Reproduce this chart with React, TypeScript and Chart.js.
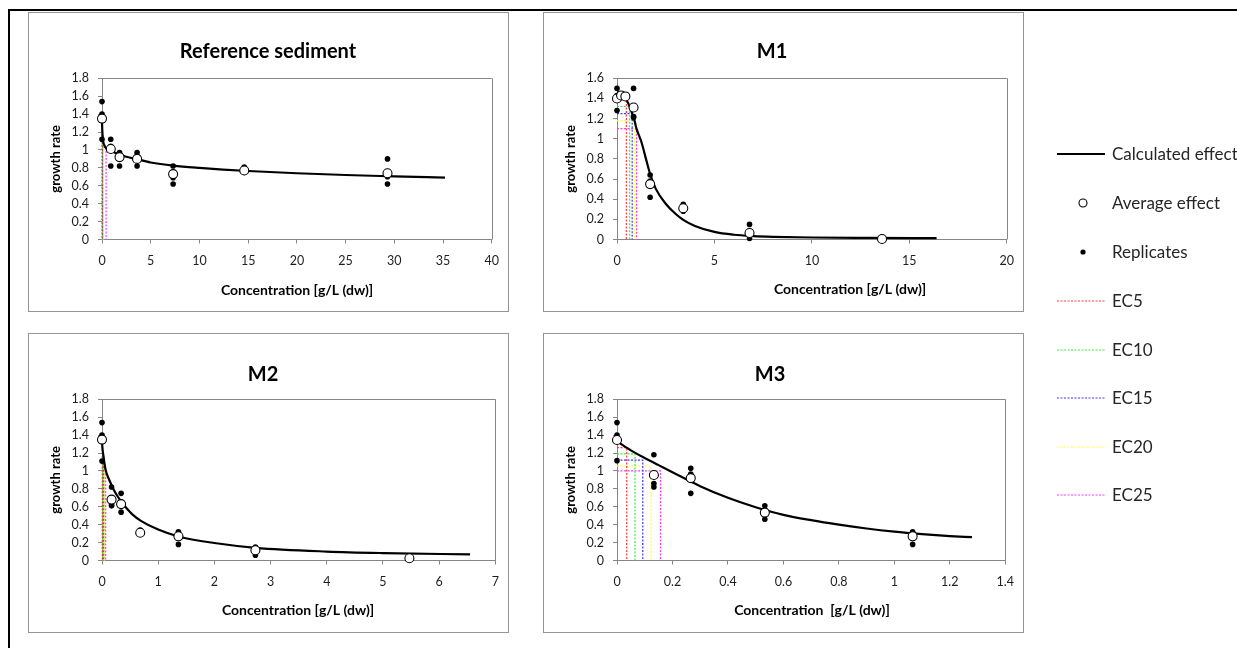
import React, { useEffect, useRef } from "react";
import { Chart, registerables } from "chart.js";

Chart.register(...registerables);

const FONT = "Lato, 'Open Sans', 'DejaVu Sans', sans-serif";

// ---------- Reference sediment ----------
const refConc = [0, 0.9, 1.8, 3.6, 7.3, 14.6, 29.3];
const refAverage = [1.35, 1.01, 0.92, 0.9, 0.73, 0.77, 0.74];
const refReplicates = [
  [1.54, 1.4, 1.12],
  [1.12, 1.04, 0.82],
  [0.97, 0.95, 0.9, 0.82],
  [0.97, 0.9, 0.82],
  [0.82, 0.75, 0.69, 0.62],
  [0.81, 0.77, 0.75],
  [0.9, 0.75, 0.73, 0.7, 0.62],
];
const refCurveX = [0, 0.01, 0.03, 0.06, 0.13, 0.25, 0.42, 1, 2, 3.6, 5, 7.3, 10, 15, 20, 25, 30, 35.2];
const refCurveY = [1.36, 1.29, 1.22, 1.16, 1.09, 1.05, 1.02, 0.985, 0.94, 0.895, 0.86, 0.825, 0.8, 0.765, 0.74, 0.72, 0.705, 0.69];
const refEcX = [0.01, 0.03, 0.06, 0.13, 0.42];
const refEcY = [1.29, 1.22, 1.16, 1.09, 1.02];

// ---------- M1 ----------
const m1Conc = [0, 0.21, 0.43, 0.85, 1.7, 3.4, 6.8, 13.6];
const m1Average = [1.4, 1.43, 1.42, 1.31, 0.55, 0.31, 0.065, 0.005];
const m1Replicates = [
  [1.5, 1.43, 1.28],
  [1.44, 1.42],
  [1.43, 1.42, 1.41],
  [1.5, 1.22, 1.21],
  [0.64, 0.58, 0.42],
  [0.35, 0.3, 0.28],
  [0.15, 0.04, 0.01],
  [0.01, 0.005, 0.0],
];
const m1CurveX = [0, 0.2, 0.35, 0.48, 0.65, 0.78, 0.9, 1.0, 1.25, 1.5, 1.7, 2.0, 2.5, 3.0, 3.4, 4, 5, 6, 7, 8, 10, 13, 16.4];
const m1CurveY = [1.46, 1.455, 1.435, 1.39, 1.32, 1.25, 1.18, 1.1, 0.97, 0.79, 0.65, 0.5, 0.355, 0.255, 0.195, 0.135, 0.075, 0.047, 0.034, 0.027, 0.02, 0.016, 0.013];
const m1EcX = [0.48, 0.65, 0.78, 0.9, 1.0];
const m1EcY = [1.39, 1.32, 1.25, 1.18, 1.1];

// ---------- M2 ----------
const m2Conc = [0, 0.17, 0.34, 0.68, 1.36, 2.73, 5.47];
const m2Average = [1.35, 0.68, 0.63, 0.31, 0.27, 0.115, 0.025];
const m2Replicates = [
  [1.54, 1.4, 1.11],
  [0.82, 0.62, 0.61],
  [0.75, 0.61, 0.54],
  [0.34, 0.31, 0.3],
  [0.32, 0.31, 0.18],
  [0.15, 0.13, 0.06],
  [0.04, 0.02, 0.01],
];
const m2CurveX = [0, 0.005, 0.015, 0.03, 0.045, 0.065, 0.09, 0.136, 0.2, 0.254, 0.34, 0.43, 0.55, 0.7, 1.0, 1.36, 2.0, 2.73, 4, 5, 6.55];
const m2CurveY = [1.35, 1.28, 1.215, 1.15, 1.08, 1.01, 0.96, 0.89, 0.8, 0.74, 0.66, 0.59, 0.51, 0.44, 0.345, 0.268, 0.195, 0.142, 0.1, 0.083, 0.068];
const m2EcX = [0.005, 0.015, 0.03, 0.045, 0.065];
const m2EcY = [1.28, 1.215, 1.15, 1.08, 1.01];

// ---------- M3 ----------
const m3Conc = [0, 0.133, 0.266, 0.533, 1.066];
const m3Average = [1.345, 0.955, 0.92, 0.535, 0.27];
const m3Replicates = [
  [1.54, 1.4, 1.115],
  [1.18, 0.86, 0.82],
  [1.03, 0.965, 0.75],
  [0.61, 0.53, 0.46],
  [0.32, 0.31, 0.18],
];
const m3CurveX = [0, 0.05, 0.1, 0.15, 0.2, 0.3, 0.4, 0.5, 0.6, 0.7, 0.8, 0.9, 1.0, 1.1, 1.2, 1.28];
const m3CurveY = [1.33, 1.23, 1.145, 1.065, 0.985, 0.83, 0.7, 0.595, 0.51, 0.45, 0.4, 0.357, 0.322, 0.295, 0.273, 0.26];
const m3EcX = [0.035, 0.065, 0.093, 0.123, 0.157];
const m3EcY = [1.26, 1.19, 1.12, 1.055, 1.0];

// ---------- ticks & labels ----------
const yTicks18 = [0, 0.2, 0.4, 0.6, 0.8, 1, 1.2, 1.4, 1.6, 1.8];
const yTicks16 = [0, 0.2, 0.4, 0.6, 0.8, 1, 1.2, 1.4, 1.6];
const xTicksRef = [0, 5, 10, 15, 20, 25, 30, 35, 40];
const xTicksM1 = [0, 5, 10, 15, 20];
const xTicksM2 = [0, 1, 2, 3, 4, 5, 6, 7];
const xTicksM3 = [0, 0.2, 0.4, 0.6, 0.8, 1, 1.2, 1.4];

const ecLabels = ["EC5", "EC10", "EC15", "EC20", "EC25"];
const ecColors = ["#ff3b3b", "#3bef3b", "#3b3bff", "#ffff3b", "#ff3bff"];

const panelTitles = ["Reference sediment", "M1", "M2", "M3"];
const xTitles = ["Concentration [g/L (dw)]", "Concentration [g/L (dw)]", "Concentration [g/L (dw)]", "Concentration  [g/L (dw)]"];
const yTitle = "growth rate";
const legendLabels = ["Calculated effect", "Average effect", "Replicates"];

// ---------- layout (pixels) ----------
const PW = 481;
const PH = 300;
const layouts = [
  { x: 28, y: 12, right: 465, titleX: 240, titleY: 40, xTitleX: 269, xTitleY: 278 },
  { x: 543, y: 12, right: 465, titleX: 229, titleY: 40, xTitleX: 307, xTitleY: 277 },
  { x: 28, y: 333, right: 469, titleX: 235, titleY: 42, xTitleX: 270, xTitleY: 277 },
  { x: 543, y: 333, right: 464, titleX: 227, titleY: 42, xTitleX: 269, xTitleY: 277 },
];

type PanelData = {
  conc: number[];
  average: number[];
  replicates: number[][];
  curveX: number[];
  curveY: number[];
  ecX: number[];
  ecY: number[];
  xTicks: number[];
  yTicks: number[];
};

const panels: PanelData[] = [
  { conc: refConc, average: refAverage, replicates: refReplicates, curveX: refCurveX, curveY: refCurveY, ecX: refEcX, ecY: refEcY, xTicks: xTicksRef, yTicks: yTicks18 },
  { conc: m1Conc, average: m1Average, replicates: m1Replicates, curveX: m1CurveX, curveY: m1CurveY, ecX: m1EcX, ecY: m1EcY, xTicks: xTicksM1, yTicks: yTicks16 },
  { conc: m2Conc, average: m2Average, replicates: m2Replicates, curveX: m2CurveX, curveY: m2CurveY, ecX: m2EcX, ecY: m2EcY, xTicks: xTicksM2, yTicks: yTicks18 },
  { conc: m3Conc, average: m3Average, replicates: m3Replicates, curveX: m3CurveX, curveY: m3CurveY, ecX: m3EcX, ecY: m3EcY, xTicks: xTicksM3, yTicks: yTicks18 },
];

const AXIS_GRAY = "#868686";
const TEXT = "#1e1e1e";

const decorPlugin = {
  id: "decor",
  beforeDraw(chart: any) {
    const ctx = chart.ctx;
    ctx.save();
    ctx.fillStyle = "#ffffff";
    ctx.fillRect(0, 0, chart.width, chart.height);
    ctx.strokeStyle = "#959595";
    ctx.lineWidth = 1;
    ctx.strokeRect(0.5, 0.5, chart.width - 1, chart.height - 1);
    ctx.restore();
  },
  beforeDatasetsDraw(chart: any) {
    const { ctx, chartArea: a } = chart;
    ctx.save();
    ctx.strokeStyle = AXIS_GRAY;
    ctx.lineWidth = 1;
    ctx.beginPath();
    ctx.moveTo(a.left, Math.round(a.top) + 0.5);
    ctx.lineTo(a.right, Math.round(a.top) + 0.5);
    ctx.moveTo(Math.round(a.right) + 0.5, a.top);
    ctx.lineTo(Math.round(a.right) + 0.5, a.bottom);
    ctx.stroke();
    ctx.restore();
  },
  afterDraw(chart: any, _args: any, opts: any) {
    const { ctx, chartArea: a } = chart;
    ctx.save();
    ctx.fillStyle = "#000";
    ctx.textAlign = "center";
    ctx.textBaseline = "middle";
    ctx.font = `bold 20px ${FONT}`;
    ctx.fillText(opts.title, opts.titleX, opts.titleY);
    ctx.font = `bold 14px ${FONT}`;
    ctx.fillText(opts.xTitle, opts.xTitleX, opts.xTitleY);
    ctx.translate(28, (a.top + a.bottom) / 2);
    ctx.rotate(-Math.PI / 2);
    ctx.font = `bold 13px ${FONT}`;
    ctx.fillText(opts.yTitle, 0, 0);
    ctx.restore();
  },
};

const fmt = (v: number) => String(Math.round(v * 10) / 10);

function buildConfig(i: number): any {
  const p = panels[i];
  const L = layouts[i];
  const avgPts = p.conc.map((x, k) => ({ x, y: p.average[k] }));
  const repPts: { x: number; y: number }[] = [];
  p.replicates.forEach((grp, k) => grp.forEach((y) => repPts.push({ x: p.conc[k], y })));
  const curvePts = p.curveX.map((x, k) => ({ x, y: p.curveY[k] }));
  const ecSets = p.ecX.map((x, k) => ({
    label: ecLabels[k],
    data: [
      { x: 0, y: p.ecY[k] },
      { x, y: p.ecY[k] },
      { x, y: 0 },
    ],
    showLine: true,
    borderColor: ecColors[k],
    borderWidth: 1.2,
    borderDash: [2, 1.5],
    pointRadius: 0,
    tension: 0,
    clip: false,
  }));
  const xTicks = p.xTicks;
  const yTicks = p.yTicks;
  return {
    type: "scatter",
    data: {
      datasets: [
        {
          label: "Average effect",
          data: avgPts,
          pointRadius: 4.5,
          pointBackgroundColor: "#ffffff",
          pointBorderColor: "#000000",
          pointBorderWidth: 1.1,
          showLine: false,
          clip: false,
        },
        {
          label: "Replicates",
          data: repPts,
          pointRadius: 2.8,
          pointBackgroundColor: "#000000",
          pointBorderColor: "#000000",
          pointBorderWidth: 0,
          showLine: false,
          clip: false,
        },
        {
          label: "Calculated effect",
          data: curvePts,
          showLine: true,
          borderColor: "#000000",
          borderWidth: 2.2,
          pointRadius: 0,
          cubicInterpolationMode: "monotone",
          clip: false,
        },
        ...ecSets,
      ],
    },
    options: {
      responsive: false,
      maintainAspectRatio: false,
      animation: false,
      events: [],
      layout: { padding: { left: 0, top: 66.3, right: PW - L.right, bottom: PH - 227.5 - 30 } },
      plugins: {
        legend: { display: false },
        tooltip: { enabled: false },
        title: { display: false },
        decor: {
          title: panelTitles[i],
          titleX: L.titleX,
          titleY: L.titleY,
          xTitle: xTitles[i],
          xTitleX: L.xTitleX,
          xTitleY: L.xTitleY,
          yTitle,
        },
      },
      scales: {
        x: {
          type: "linear",
          position: "bottom",
          min: xTicks[0],
          max: xTicks[xTicks.length - 1],
          afterBuildTicks: (axis: any) => {
            axis.ticks = xTicks.map((v) => ({ value: v }));
          },
          afterFit: (axis: any) => {
            axis.height = 30;
          },
          ticks: { callback: (v: number) => fmt(v), color: TEXT, font: { family: FONT, size: 12.5 }, padding: 10, maxRotation: 0, autoSkip: false },
          grid: { display: true, drawOnChartArea: false, drawTicks: true, tickLength: 4, color: AXIS_GRAY },
          border: { display: true, color: AXIS_GRAY, width: 1 },
          title: { display: false },
        },
        y: {
          type: "linear",
          min: yTicks[0],
          max: yTicks[yTicks.length - 1],
          afterBuildTicks: (axis: any) => {
            axis.ticks = yTicks.map((v) => ({ value: v }));
          },
          afterFit: (axis: any) => {
            axis.width = 74;
          },
          ticks: { callback: (v: number) => fmt(v), color: TEXT, font: { family: FONT, size: 12.5 }, padding: 9, autoSkip: false },
          grid: { display: true, drawOnChartArea: false, drawTicks: true, tickLength: 4, color: AXIS_GRAY },
          border: { display: true, color: AXIS_GRAY, width: 1 },
          title: { display: false },
        },
      },
    },
    plugins: [decorPlugin],
  };
}

function PanelChart({ index }: { index: number }) {
  const ref = useRef<HTMLCanvasElement>(null);
  useEffect(() => {
    const chart = new Chart(ref.current as HTMLCanvasElement, buildConfig(index));
    return () => chart.destroy();
  }, [index]);
  const L = layouts[index];
  return (
    <canvas
      ref={ref}
      width={PW}
      height={PH}
      style={{ position: "absolute", left: L.x, top: L.y, width: PW, height: PH, display: "block" }}
    />
  );
}

const legendRowsY = [154, 203, 252, 301, 350, 398, 447, 495];

function Legend() {
  const textStyle = (y: number): React.CSSProperties => ({
    position: "absolute",
    left: 1112,
    top: y - 11,
    height: 22,
    lineHeight: "22px",
    fontFamily: FONT,
    fontSize: 17,
    color: "#262626",
    whiteSpace: "nowrap",
  });
  const labels = [...legendLabels, ...ecLabels];
  return (
    <>
      <svg style={{ position: "absolute", left: 0, top: 0 }} width={1237} height={648}>
        <line x1={1057} x2={1105} y1={154} y2={154} stroke="#000" strokeWidth={2.2} />
        <circle cx={1083} cy={203} r={4} fill="#fff" stroke="#000" strokeWidth={1.1} />
        <circle cx={1083} cy={252} r={2.6} fill="#000" />
        {ecColors.map((c, k) => (
          <line key={k} x1={1057} x2={1105} y1={legendRowsY[3 + k]} y2={legendRowsY[3 + k]} stroke={c} strokeWidth={1.2} strokeDasharray="2 1.5" />
        ))}
      </svg>
      {labels.map((t, k) => (
        <div key={t} style={textStyle(legendRowsY[k])}>
          {t}
        </div>
      ))}
    </>
  );
}

export default function App() {
  return (
    <div
      style={{
        position: "fixed",
        left: 0,
        top: 0,
        width: 1237,
        height: 648,
        overflow: "hidden",
        background: "#ffffff",
      }}
    >
      <div
        style={{
          position: "absolute",
          left: 8,
          top: 9,
          width: 1300,
          height: 700,
          borderTop: "2px solid #000",
          borderLeft: "2px solid #000",
        }}
      />
      {[0, 1, 2, 3].map((i) => (
        <PanelChart key={i} index={i} />
      ))}
      <Legend />
    </div>
  );
}
